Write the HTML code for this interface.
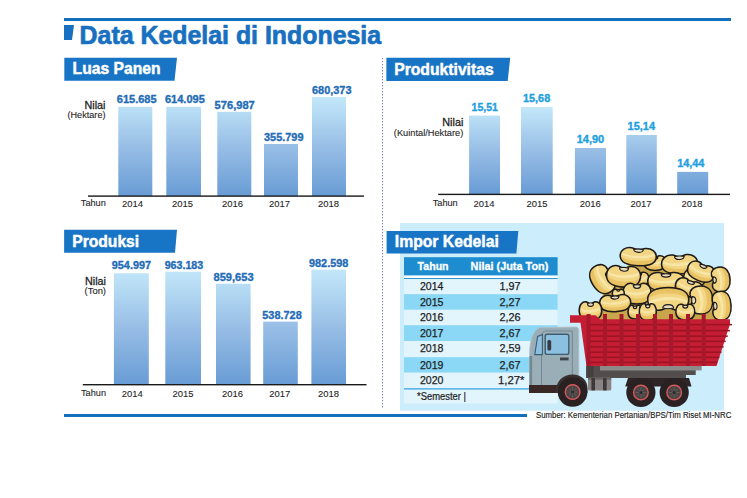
<!DOCTYPE html>
<html><head><meta charset="utf-8"><style>
html,body{margin:0;padding:0;background:#fff;}
body{width:747px;height:498px;overflow:hidden;}
svg{display:block;font-family:"Liberation Sans", sans-serif;}
</style></head><body>
<svg width="747" height="498" viewBox="0 0 747 498">
<rect width="747" height="498" fill="#fff"/>
<rect x="64" y="18" width="667" height="3" fill="#1470bc"/>
<rect x="64" y="414" width="463" height="3" fill="#1470bc"/>
<polygon points="64,25 74,25 72,40 64,40" fill="#1870c0"/>
<text x="79.6" y="43.7" font-size="25" font-weight="bold" fill="#1870c0" text-anchor="start" textLength="301.5" lengthAdjust="spacingAndGlyphs" stroke="#1870c0" stroke-width="0.7" >Data Kedelai di Indonesia</text>
<polygon points="64.3,57.7 177,57.7 174.5,80.8 64.3,80.8" fill="#1875c5"/>
<text x="72.6" y="73.8" font-size="16.5" font-weight="bold" fill="#fff" text-anchor="start" textLength="88" lengthAdjust="spacingAndGlyphs" stroke="#fff" stroke-width="0.45" >Luas Panen</text>
<polygon points="386.4,57.8 510.2,57.8 507.7,80.9 386.4,80.9" fill="#1875c5"/>
<text x="394.2" y="74.6" font-size="16.5" font-weight="bold" fill="#fff" text-anchor="start" textLength="99.5" lengthAdjust="spacingAndGlyphs" stroke="#fff" stroke-width="0.45" >Produktivitas</text>
<polygon points="64.1,229.7 177,229.7 175,252.8 64.1,252.8" fill="#1875c5"/>
<text x="72.2" y="246.5" font-size="16.5" font-weight="bold" fill="#fff" text-anchor="start" textLength="67" lengthAdjust="spacingAndGlyphs" stroke="#fff" stroke-width="0.45" >Produksi</text>
<line x1="382.5" y1="58" x2="382.5" y2="409" stroke="#7480bd" stroke-width="1" stroke-dasharray="1.3,1.7"/>
<defs>
<linearGradient id="g1" gradientUnits="userSpaceOnUse" x1="0" y1="97" x2="0" y2="196"><stop offset="0" stop-color="#c3e8fa"/><stop offset="0.5" stop-color="#98bee6"/><stop offset="1" stop-color="#689cd5"/></linearGradient>
<linearGradient id="g2" gradientUnits="userSpaceOnUse" x1="0" y1="107" x2="0" y2="194"><stop offset="0" stop-color="#c3e8fa"/><stop offset="0.5" stop-color="#98bee6"/><stop offset="1" stop-color="#689cd5"/></linearGradient>
<linearGradient id="g3" gradientUnits="userSpaceOnUse" x1="0" y1="269" x2="0" y2="385"><stop offset="0" stop-color="#c3e8fa"/><stop offset="0.5" stop-color="#98bee6"/><stop offset="1" stop-color="#689cd5"/></linearGradient>
</defs>
<rect x="118.3" y="106.8" width="34.000000000000014" height="89.2" fill="url(#g1)"/>
<rect x="166.3" y="106.8" width="34.69999999999999" height="89.2" fill="url(#g1)"/>
<rect x="217.3" y="111.8" width="34.0" height="84.2" fill="url(#g1)"/>
<rect x="264" y="144" width="34" height="52" fill="url(#g1)"/>
<rect x="312" y="96.9" width="34" height="99.1" fill="url(#g1)"/>
<rect x="88" y="195.4" width="276" height="1.4" fill="#1a1a1a"/>
<text x="116.8" y="103.3" font-size="10.8" font-weight="bold" fill="#1f6cb7" text-anchor="start" textLength="39.8" lengthAdjust="spacingAndGlyphs" stroke="#1f6cb7" stroke-width="0.35" >615.685</text>
<text x="165" y="103.3" font-size="10.8" font-weight="bold" fill="#1f6cb7" text-anchor="start" textLength="39.8" lengthAdjust="spacingAndGlyphs" stroke="#1f6cb7" stroke-width="0.35" >614.095</text>
<text x="214.6" y="109" font-size="10.8" font-weight="bold" fill="#1f6cb7" text-anchor="start" textLength="40.2" lengthAdjust="spacingAndGlyphs" stroke="#1f6cb7" stroke-width="0.35" >576,987</text>
<text x="264" y="141.3" font-size="10.8" font-weight="bold" fill="#1f6cb7" text-anchor="start" textLength="39.5" lengthAdjust="spacingAndGlyphs" stroke="#1f6cb7" stroke-width="0.35" >355.799</text>
<text x="312" y="93.5" font-size="10.8" font-weight="bold" fill="#1f6cb7" text-anchor="start" textLength="39.5" lengthAdjust="spacingAndGlyphs" stroke="#1f6cb7" stroke-width="0.35" >680,373</text>
<text x="122" y="207.2" font-size="9.8" font-weight="normal" fill="#1e1e1e" text-anchor="start" textLength="21" lengthAdjust="spacingAndGlyphs" stroke="#1e1e1e" stroke-width="0.1" >2014</text>
<text x="172" y="207.2" font-size="9.8" font-weight="normal" fill="#1e1e1e" text-anchor="start" textLength="21" lengthAdjust="spacingAndGlyphs" stroke="#1e1e1e" stroke-width="0.1" >2015</text>
<text x="222" y="207.2" font-size="9.8" font-weight="normal" fill="#1e1e1e" text-anchor="start" textLength="21" lengthAdjust="spacingAndGlyphs" stroke="#1e1e1e" stroke-width="0.1" >2016</text>
<text x="269" y="207.2" font-size="9.8" font-weight="normal" fill="#1e1e1e" text-anchor="start" textLength="21" lengthAdjust="spacingAndGlyphs" stroke="#1e1e1e" stroke-width="0.1" >2017</text>
<text x="318" y="207.2" font-size="9.8" font-weight="normal" fill="#1e1e1e" text-anchor="start" textLength="21" lengthAdjust="spacingAndGlyphs" stroke="#1e1e1e" stroke-width="0.1" >2018</text>
<text x="80.8" y="206.2" font-size="9.6" font-weight="normal" fill="#1e1e1e" text-anchor="start" textLength="25" lengthAdjust="spacingAndGlyphs" stroke="#1e1e1e" stroke-width="0.1" >Tahun</text>
<text x="84.5" y="109" font-size="11.5" font-weight="normal" fill="#1e1e1e" text-anchor="start" textLength="21" lengthAdjust="spacingAndGlyphs" stroke="#1e1e1e" stroke-width="0.3" >Nilai</text>
<text x="67.5" y="118.1" font-size="9.4" font-weight="normal" fill="#1e1e1e" text-anchor="start" textLength="38" lengthAdjust="spacingAndGlyphs" stroke="#1e1e1e" stroke-width="0.1" >(Hektare)</text>
<rect x="469.1" y="115.6" width="30.899999999999977" height="78.70000000000002" fill="url(#g2)"/>
<rect x="521" y="107" width="31.700000000000045" height="87.30000000000001" fill="url(#g2)"/>
<rect x="574.9" y="148" width="31.100000000000023" height="46.30000000000001" fill="url(#g2)"/>
<rect x="626.3" y="135" width="30.5" height="59.30000000000001" fill="url(#g2)"/>
<rect x="677.2" y="171.9" width="31.0" height="22.400000000000006" fill="url(#g2)"/>
<rect x="438.2" y="193.70000000000002" width="291.8" height="1.4" fill="#1a1a1a"/>
<text x="471.6" y="110.8" font-size="10.8" font-weight="bold" fill="#22a0de" text-anchor="start" textLength="26.2" lengthAdjust="spacingAndGlyphs" stroke="#22a0de" stroke-width="0.35" >15,51</text>
<text x="523" y="102" font-size="10.8" font-weight="bold" fill="#22a0de" text-anchor="start" textLength="27.2" lengthAdjust="spacingAndGlyphs" stroke="#22a0de" stroke-width="0.35" >15,68</text>
<text x="576.7" y="143.4" font-size="10.8" font-weight="bold" fill="#22a0de" text-anchor="start" textLength="27.5" lengthAdjust="spacingAndGlyphs" stroke="#22a0de" stroke-width="0.35" >14,90</text>
<text x="627.6" y="130" font-size="10.8" font-weight="bold" fill="#22a0de" text-anchor="start" textLength="27.4" lengthAdjust="spacingAndGlyphs" stroke="#22a0de" stroke-width="0.35" >15,14</text>
<text x="677.2" y="167" font-size="10.8" font-weight="bold" fill="#22a0de" text-anchor="start" textLength="27.2" lengthAdjust="spacingAndGlyphs" stroke="#22a0de" stroke-width="0.35" >14,44</text>
<text x="473.4" y="207.3" font-size="9.8" font-weight="normal" fill="#1e1e1e" text-anchor="start" textLength="21" lengthAdjust="spacingAndGlyphs" stroke="#1e1e1e" stroke-width="0.1" >2014</text>
<text x="526.4" y="207.3" font-size="9.8" font-weight="normal" fill="#1e1e1e" text-anchor="start" textLength="21" lengthAdjust="spacingAndGlyphs" stroke="#1e1e1e" stroke-width="0.1" >2015</text>
<text x="579.8" y="207.3" font-size="9.8" font-weight="normal" fill="#1e1e1e" text-anchor="start" textLength="21" lengthAdjust="spacingAndGlyphs" stroke="#1e1e1e" stroke-width="0.1" >2016</text>
<text x="630.6" y="207.3" font-size="9.8" font-weight="normal" fill="#1e1e1e" text-anchor="start" textLength="21" lengthAdjust="spacingAndGlyphs" stroke="#1e1e1e" stroke-width="0.1" >2017</text>
<text x="681.5" y="207.3" font-size="9.8" font-weight="normal" fill="#1e1e1e" text-anchor="start" textLength="21" lengthAdjust="spacingAndGlyphs" stroke="#1e1e1e" stroke-width="0.1" >2018</text>
<text x="432.7" y="206.3" font-size="9.6" font-weight="normal" fill="#1e1e1e" text-anchor="start" textLength="25" lengthAdjust="spacingAndGlyphs" stroke="#1e1e1e" stroke-width="0.1" >Tahun</text>
<text x="442.3" y="126.4" font-size="11.5" font-weight="normal" fill="#1e1e1e" text-anchor="start" textLength="21" lengthAdjust="spacingAndGlyphs" stroke="#1e1e1e" stroke-width="0.3" >Nilai</text>
<text x="393.8" y="135.8" font-size="9.4" font-weight="normal" fill="#1e1e1e" text-anchor="start" textLength="69.5" lengthAdjust="spacingAndGlyphs" stroke="#1e1e1e" stroke-width="0.1" >(Kuintal/Hektare)</text>
<rect x="113.9" y="273.2" width="34.900000000000006" height="111.40000000000003" fill="url(#g3)"/>
<rect x="165.3" y="271.7" width="35.69999999999999" height="112.90000000000003" fill="url(#g3)"/>
<rect x="216" y="283.7" width="34.599999999999994" height="100.90000000000003" fill="url(#g3)"/>
<rect x="263.2" y="321.6" width="34.60000000000002" height="63.0" fill="url(#g3)"/>
<rect x="311.4" y="269.6" width="34.60000000000002" height="115.0" fill="url(#g3)"/>
<rect x="82.8" y="384.0" width="283.7" height="1.4" fill="#1a1a1a"/>
<text x="111.8" y="268.9" font-size="10.8" font-weight="bold" fill="#1f6cb7" text-anchor="start" textLength="39.2" lengthAdjust="spacingAndGlyphs" stroke="#1f6cb7" stroke-width="0.35" >954.997</text>
<text x="164.7" y="268.9" font-size="10.8" font-weight="bold" fill="#1f6cb7" text-anchor="start" textLength="38.5" lengthAdjust="spacingAndGlyphs" stroke="#1f6cb7" stroke-width="0.35" >963.183</text>
<text x="213.5" y="281" font-size="10.8" font-weight="bold" fill="#1f6cb7" text-anchor="start" textLength="40.1" lengthAdjust="spacingAndGlyphs" stroke="#1f6cb7" stroke-width="0.35" >859,653</text>
<text x="262.3" y="318.6" font-size="10.8" font-weight="bold" fill="#1f6cb7" text-anchor="start" textLength="39.4" lengthAdjust="spacingAndGlyphs" stroke="#1f6cb7" stroke-width="0.35" >538.728</text>
<text x="309" y="266.6" font-size="10.8" font-weight="bold" fill="#1f6cb7" text-anchor="start" textLength="39.4" lengthAdjust="spacingAndGlyphs" stroke="#1f6cb7" stroke-width="0.35" >982.598</text>
<text x="121.8" y="397" font-size="9.8" font-weight="normal" fill="#1e1e1e" text-anchor="start" textLength="21" lengthAdjust="spacingAndGlyphs" stroke="#1e1e1e" stroke-width="0.1" >2014</text>
<text x="172.4" y="397" font-size="9.8" font-weight="normal" fill="#1e1e1e" text-anchor="start" textLength="21" lengthAdjust="spacingAndGlyphs" stroke="#1e1e1e" stroke-width="0.1" >2015</text>
<text x="222" y="397" font-size="9.8" font-weight="normal" fill="#1e1e1e" text-anchor="start" textLength="21" lengthAdjust="spacingAndGlyphs" stroke="#1e1e1e" stroke-width="0.1" >2016</text>
<text x="269.2" y="397" font-size="9.8" font-weight="normal" fill="#1e1e1e" text-anchor="start" textLength="21" lengthAdjust="spacingAndGlyphs" stroke="#1e1e1e" stroke-width="0.1" >2017</text>
<text x="318" y="397" font-size="9.8" font-weight="normal" fill="#1e1e1e" text-anchor="start" textLength="21" lengthAdjust="spacingAndGlyphs" stroke="#1e1e1e" stroke-width="0.1" >2018</text>
<text x="81" y="396" font-size="9.6" font-weight="normal" fill="#1e1e1e" text-anchor="start" textLength="25" lengthAdjust="spacingAndGlyphs" stroke="#1e1e1e" stroke-width="0.1" >Tahun</text>
<text x="85" y="285" font-size="11.5" font-weight="normal" fill="#1e1e1e" text-anchor="start" textLength="21" lengthAdjust="spacingAndGlyphs" stroke="#1e1e1e" stroke-width="0.3" >Nilai</text>
<text x="84.6" y="294.1" font-size="9.4" font-weight="normal" fill="#1e1e1e" text-anchor="start" textLength="21.4" lengthAdjust="spacingAndGlyphs" stroke="#1e1e1e" stroke-width="0.1" >(Ton)</text>
<rect x="400" y="223" width="324" height="187.7" fill="#ccedfb"/>
<polygon points="386.6,231 518.3,231 516.4,253.4 386.6,253.4" fill="#1875c5"/>
<text x="394.8" y="246.9" font-size="16.5" font-weight="bold" fill="#fff" text-anchor="start" textLength="104" lengthAdjust="spacingAndGlyphs" stroke="#fff" stroke-width="0.45" >Impor Kedelai</text>
<rect x="404" y="257.2" width="153.6" height="18.4" fill="#1d8dcf"/>
<rect x="404" y="275.6" width="153.6" height="2.5" fill="#ffffff"/>
<rect x="404" y="278.1" width="153.6" height="1.1" fill="#1d8dcf"/>
<text x="417.6" y="269.8" font-size="11" font-weight="bold" fill="#fff" text-anchor="start" textLength="31" lengthAdjust="spacingAndGlyphs" stroke="#fff" stroke-width="0.3" >Tahun</text>
<text x="470.6" y="269.8" font-size="11" font-weight="bold" fill="#fff" text-anchor="start" textLength="77.7" lengthAdjust="spacingAndGlyphs" stroke="#fff" stroke-width="0.3" >Nilai (Juta Ton)</text>
<rect x="404" y="279.10" width="153.6" height="15.10" fill="#e2f4fc"/>
<text x="419.9" y="290.40000000000003" font-size="10.8" font-weight="normal" fill="#1e1e1e" text-anchor="start" textLength="23.5" lengthAdjust="spacingAndGlyphs" stroke="#1e1e1e" stroke-width="0.25" >2014</text>
<text x="510" y="290.40000000000003" font-size="10.8" font-weight="normal" fill="#1e1e1e" text-anchor="middle" stroke="#1e1e1e" stroke-width="0.25" >1,97</text>
<rect x="404" y="294.20" width="153.6" height="15.60" fill="#8ad7f6"/>
<text x="419.9" y="305.5" font-size="10.8" font-weight="normal" fill="#1e1e1e" text-anchor="start" textLength="23.5" lengthAdjust="spacingAndGlyphs" stroke="#1e1e1e" stroke-width="0.25" >2015</text>
<text x="510" y="305.5" font-size="10.8" font-weight="normal" fill="#1e1e1e" text-anchor="middle" stroke="#1e1e1e" stroke-width="0.25" >2,27</text>
<rect x="404" y="309.80" width="153.6" height="15.50" fill="#e2f4fc"/>
<text x="419.9" y="321.1" font-size="10.8" font-weight="normal" fill="#1e1e1e" text-anchor="start" textLength="23.5" lengthAdjust="spacingAndGlyphs" stroke="#1e1e1e" stroke-width="0.25" >2016</text>
<text x="510" y="321.1" font-size="10.8" font-weight="normal" fill="#1e1e1e" text-anchor="middle" stroke="#1e1e1e" stroke-width="0.25" >2,26</text>
<rect x="404" y="325.30" width="153.6" height="15.70" fill="#8ad7f6"/>
<text x="419.9" y="336.6" font-size="10.8" font-weight="normal" fill="#1e1e1e" text-anchor="start" textLength="23.5" lengthAdjust="spacingAndGlyphs" stroke="#1e1e1e" stroke-width="0.25" >2017</text>
<text x="510" y="336.6" font-size="10.8" font-weight="normal" fill="#1e1e1e" text-anchor="middle" stroke="#1e1e1e" stroke-width="0.25" >2,67</text>
<rect x="404" y="341.00" width="153.6" height="16.20" fill="#e2f4fc"/>
<text x="419.9" y="352.3" font-size="10.8" font-weight="normal" fill="#1e1e1e" text-anchor="start" textLength="23.5" lengthAdjust="spacingAndGlyphs" stroke="#1e1e1e" stroke-width="0.25" >2018</text>
<text x="510" y="352.3" font-size="10.8" font-weight="normal" fill="#1e1e1e" text-anchor="middle" stroke="#1e1e1e" stroke-width="0.25" >2,59</text>
<rect x="404" y="357.20" width="153.6" height="15.50" fill="#8ad7f6"/>
<text x="419.9" y="368.5" font-size="10.8" font-weight="normal" fill="#1e1e1e" text-anchor="start" textLength="23.5" lengthAdjust="spacingAndGlyphs" stroke="#1e1e1e" stroke-width="0.25" >2019</text>
<text x="510" y="368.5" font-size="10.8" font-weight="normal" fill="#1e1e1e" text-anchor="middle" stroke="#1e1e1e" stroke-width="0.25" >2,67</text>
<rect x="404" y="372.70" width="153.6" height="15.50" fill="#e2f4fc"/>
<text x="419.9" y="384.0" font-size="10.8" font-weight="normal" fill="#1e1e1e" text-anchor="start" textLength="23.5" lengthAdjust="spacingAndGlyphs" stroke="#1e1e1e" stroke-width="0.25" >2020</text>
<text x="498" y="384.0" font-size="10.8" font-weight="normal" fill="#1e1e1e" text-anchor="start" textLength="26.5" lengthAdjust="spacingAndGlyphs" stroke="#1e1e1e" stroke-width="0.25" >1,27*</text>
<rect x="404" y="388" width="153.6" height="1.8" fill="#5cb8e8"/>
<rect x="404" y="389.8" width="153.6" height="13.8" fill="#e2f4fc"/>
<text x="417" y="400.2" font-size="10" font-weight="normal" fill="#1e1e1e" text-anchor="start" textLength="49" lengthAdjust="spacingAndGlyphs" stroke="#1e1e1e" stroke-width="0.2" >*Semester |</text>
<text x="536" y="417.7" font-size="8.4" font-weight="normal" fill="#1e1e1e" text-anchor="start" textLength="195.3" lengthAdjust="spacingAndGlyphs" stroke="#1e1e1e" stroke-width="0.15" >Sumber: Kementerian Pertanian/BPS/Tim Riset MI-NRC</text>
<defs>
<clipPath id="bclip"><path d="M-18,0.5 C-18.5,-7 -12.5,-10.2 -7,-9.6 C-3.8,-9.2 -2.8,-7.6 0,-7.6 C2.8,-7.6 3.8,-9.2 7,-9.6 C12.5,-10.2 18.5,-7 18,0.5 C17.4,6.8 10,10 0,10 C-10,10 -17.4,6.8 -18,0.5 Z"/></clipPath>
<g id="bean">
<path d="M-18,0.5 C-18.5,-7 -12.5,-10.2 -7,-9.6 C-3.8,-9.2 -2.8,-7.6 0,-7.6 C2.8,-7.6 3.8,-9.2 7,-9.6 C12.5,-10.2 18.5,-7 18,0.5 C17.4,6.8 10,10 0,10 C-10,10 -17.4,6.8 -18,0.5 Z" fill="#f3d683"/>
<g clip-path="url(#bclip)">
<path d="M-19,-5.5 C-14,-1.5 -7,-0.5 0,-1 C7,-1.5 14,-2.5 19,-6.5 L19,-3.8 C14,0.2 7,1.8 0,1.8 C-7,1.8 -14,0.8 -19,-2.8 Z" fill="#f7e6a8"/>
<path d="M-19,-1.5 C-15,3.4 -8,4.8 0,4.8 C8,4.8 15,3.4 19,-1.5 L19,12 L-19,12 Z" fill="#e8c263"/>
<path d="M-19,4.5 C-15,7.8 -8,8.6 0,8.6 C8,8.6 15,7.8 19,4.5 L19,12 L-19,12 Z" fill="#d4ab48"/>
</g>
<path d="M-18,0.5 C-18.5,-7 -12.5,-10.2 -7,-9.6 C-3.8,-9.2 -2.8,-7.6 0,-7.6 C2.8,-7.6 3.8,-9.2 7,-9.6 C12.5,-10.2 18.5,-7 18,0.5 C17.4,6.8 10,10 0,10 C-10,10 -17.4,6.8 -18,0.5 Z" fill="none" stroke="#1c1a1a" stroke-width="1.55" vector-effect="non-scaling-stroke"/>
<path d="M-4.8,-7.7 C-4.4,-3.9 4.4,-3.9 4.8,-7.7 C2.5,-8.6 -2.5,-8.6 -4.8,-7.7 Z" fill="#e8dcc0" stroke="#1c1a1a" stroke-width="1.1" vector-effect="non-scaling-stroke"/>
</g>
</defs>
<polygon points="598,321 601,300 607,282 620,272 632,262 648,258 662,260 688,265 708,274 720,288 726,321" fill="#c9a64c"/>
<use href="#bean" transform="translate(655,263) rotate(0) scale(0.611,0.750)"/>
<use href="#bean" transform="translate(638.2,256.7) rotate(3) scale(1.000,0.900)"/>
<use href="#bean" transform="translate(679.6,264.2) rotate(-2) scale(1.000,0.975)"/>
<use href="#bean" transform="translate(639,279) rotate(0) scale(0.556,0.700)"/>
<use href="#bean" transform="translate(694.5,278) rotate(10) scale(0.611,0.800)"/>
<use href="#bean" transform="translate(701,272) rotate(22) scale(0.778,0.900)"/>
<use href="#bean" transform="translate(720.8,279.4) rotate(-95) scale(0.694,0.925)"/>
<use href="#bean" transform="translate(602,279.5) rotate(58) scale(0.833,1.050)"/>
<use href="#bean" transform="translate(623.5,276.4) rotate(4) scale(0.944,1.075)"/>
<use href="#bean" transform="translate(666,281.8) rotate(0) scale(1.011,0.965)"/>
<use href="#bean" transform="translate(637,293.5) rotate(0) scale(0.778,1.050)"/>
<use href="#bean" transform="translate(689,288) rotate(18) scale(0.778,0.850)"/>
<use href="#bean" transform="translate(618.3,293.5) rotate(0) scale(0.333,0.450)"/>
<use href="#bean" transform="translate(615.2,303.2) rotate(-3) scale(0.861,0.850)"/>
<use href="#bean" transform="translate(668.2,299) rotate(180) scale(1.139,1.160)"/>
<use href="#bean" transform="translate(701.3,300) rotate(-92) scale(0.778,1.150)"/>
<use href="#bean" transform="translate(721.6,305.7) rotate(-93) scale(0.806,0.950)"/>
<use href="#bean" transform="translate(590.5,311) rotate(0) scale(0.625,0.950)"/>
<use href="#bean" transform="translate(635,312) rotate(0) scale(0.389,0.700)"/>
<use href="#bean" transform="translate(647.8,312) rotate(0) scale(0.472,0.850)"/>
<use href="#bean" transform="translate(685.3,312) rotate(0) scale(0.528,0.800)"/>
<polygon points="570,315.3 595.5,315.3 600,319.3 730,319.3 730,324 716.5,366 586.5,366 580.5,322.7 570,322.7" fill="#c51d33"/>
<rect x="590.0" y="323.9" width="142.0" height="1.5" fill="#9b1422"/>
<rect x="590.0" y="329.9" width="139.9" height="1.5" fill="#9b1422"/>
<rect x="590.0" y="335.4" width="137.8" height="1.5" fill="#9b1422"/>
<rect x="590.0" y="340.6" width="135.7" height="1.5" fill="#9b1422"/>
<rect x="590.0" y="346.1" width="133.6" height="1.5" fill="#9b1422"/>
<rect x="590.0" y="351.4" width="131.5" height="1.5" fill="#9b1422"/>
<rect x="590.0" y="356.6" width="129.4" height="1.5" fill="#9b1422"/>
<rect x="590.0" y="361.6" width="127.3" height="1.5" fill="#9b1422"/>
<rect x="586.5" y="314" width="4" height="52" fill="#a8182c"/>
<rect x="603.0" y="314" width="4" height="52" fill="#a8182c"/>
<rect x="619.5" y="314" width="4" height="52" fill="#a8182c"/>
<rect x="636.0" y="314" width="4" height="52" fill="#a8182c"/>
<rect x="653.0" y="314" width="4" height="52" fill="#a8182c"/>
<rect x="669.0" y="314" width="4" height="52" fill="#a8182c"/>
<rect x="686.0" y="314" width="4" height="52" fill="#a8182c"/>
<rect x="701.7" y="314" width="4" height="52" fill="#a8182c"/>
<rect x="600" y="366" width="101.7" height="4.4" fill="#8f8a8a"/>
<path d="M586,366 L600,366 L600,370.2 L695.7,370.2 L695.7,375 L686,375 L686,378 L586,378 Z" fill="#534d4d"/>
<rect x="587.5" y="366" width="6" height="12" fill="#463f3f"/>
<rect x="588" y="377.7" width="23.3" height="12.7" rx="1.5" fill="#8a8484"/>
<rect x="588" y="377.7" width="23.3" height="2" fill="#6a6464"/>
<rect x="591.4" y="378" width="3.6" height="12.4" fill="#3e3838"/>
<rect x="603" y="378" width="3.6" height="12.4" fill="#3e3838"/>
<path d="M529.7,385.5 L529.7,353 C529.7,341 533,330.5 539.5,327.6 L576,327 C578,327 578.8,328.5 578.8,330.5 L578.8,385.5 Z" fill="#9aaeb8" stroke="#b3c0c7" stroke-width="0.9"/>
<rect x="529.5" y="356" width="2.6" height="29" fill="#74868f"/>
<path d="M541.5,385 L541.5,336 C541.5,333 543.5,331 546.5,331 L572.3,331 L572.3,385" fill="none" stroke="#74868f" stroke-width="1"/>
<rect x="545.2" y="334.2" width="23.6" height="20.2" rx="2" fill="#8cc0e0" stroke="#3f5d70" stroke-width="1.4"/>
<polygon points="534.8,354.6 537.6,336.5 542.4,334.6 542.4,354.6" fill="#8cc0e0" stroke="#3f5d70" stroke-width="1.1"/>
<rect x="547.4" y="340" width="3.8" height="10.5" rx="1.5" fill="#383c44"/>
<rect x="560" y="357.5" width="8.6" height="2.9" fill="#3f4448"/>
<rect x="529" y="385" width="29" height="8" fill="#3a2826"/>
<path d="M555.5,393 C555.5,381 563,374.4 572.6,374.4 C581,374.4 587.5,380 587.5,388 L587.5,393 Z" fill="#3a3030"/>
<circle cx="572.6" cy="392" r="14.8" fill="#2a2222"/>
<circle cx="572.6" cy="392" r="7.3" fill="#4a4343" stroke="#d45a5c" stroke-width="1.4"/>
<line x1="572.6" y1="392" x2="578.10" y2="392.00" stroke="#6a6262" stroke-width="0.8"/>
<line x1="572.6" y1="392" x2="576.49" y2="395.89" stroke="#6a6262" stroke-width="0.8"/>
<line x1="572.6" y1="392" x2="572.60" y2="397.50" stroke="#6a6262" stroke-width="0.8"/>
<line x1="572.6" y1="392" x2="568.71" y2="395.89" stroke="#6a6262" stroke-width="0.8"/>
<line x1="572.6" y1="392" x2="567.10" y2="392.00" stroke="#6a6262" stroke-width="0.8"/>
<line x1="572.6" y1="392" x2="568.71" y2="388.11" stroke="#6a6262" stroke-width="0.8"/>
<line x1="572.6" y1="392" x2="572.60" y2="386.50" stroke="#6a6262" stroke-width="0.8"/>
<line x1="572.6" y1="392" x2="576.49" y2="388.11" stroke="#6a6262" stroke-width="0.8"/>
<circle cx="572.6" cy="392" r="1.6" fill="#2e2828"/>
<path d="M625.2,386.5 L628,378 L689,378 L691.5,386.5 Z" fill="#2e2626"/>
<circle cx="640.9" cy="392.5" r="14.6" fill="#2a2222"/>
<circle cx="640.9" cy="392.5" r="7.3" fill="#4a4343" stroke="#d45a5c" stroke-width="1.4"/>
<line x1="640.9" y1="392.5" x2="646.40" y2="392.50" stroke="#6a6262" stroke-width="0.8"/>
<line x1="640.9" y1="392.5" x2="644.79" y2="396.39" stroke="#6a6262" stroke-width="0.8"/>
<line x1="640.9" y1="392.5" x2="640.90" y2="398.00" stroke="#6a6262" stroke-width="0.8"/>
<line x1="640.9" y1="392.5" x2="637.01" y2="396.39" stroke="#6a6262" stroke-width="0.8"/>
<line x1="640.9" y1="392.5" x2="635.40" y2="392.50" stroke="#6a6262" stroke-width="0.8"/>
<line x1="640.9" y1="392.5" x2="637.01" y2="388.61" stroke="#6a6262" stroke-width="0.8"/>
<line x1="640.9" y1="392.5" x2="640.90" y2="387.00" stroke="#6a6262" stroke-width="0.8"/>
<line x1="640.9" y1="392.5" x2="644.79" y2="388.61" stroke="#6a6262" stroke-width="0.8"/>
<circle cx="640.9" cy="392.5" r="1.6" fill="#2e2828"/>
<circle cx="674.2" cy="392.5" r="14.6" fill="#2a2222"/>
<circle cx="674.2" cy="392.5" r="7.3" fill="#4a4343" stroke="#d45a5c" stroke-width="1.4"/>
<line x1="674.2" y1="392.5" x2="679.70" y2="392.50" stroke="#6a6262" stroke-width="0.8"/>
<line x1="674.2" y1="392.5" x2="678.09" y2="396.39" stroke="#6a6262" stroke-width="0.8"/>
<line x1="674.2" y1="392.5" x2="674.20" y2="398.00" stroke="#6a6262" stroke-width="0.8"/>
<line x1="674.2" y1="392.5" x2="670.31" y2="396.39" stroke="#6a6262" stroke-width="0.8"/>
<line x1="674.2" y1="392.5" x2="668.70" y2="392.50" stroke="#6a6262" stroke-width="0.8"/>
<line x1="674.2" y1="392.5" x2="670.31" y2="388.61" stroke="#6a6262" stroke-width="0.8"/>
<line x1="674.2" y1="392.5" x2="674.20" y2="387.00" stroke="#6a6262" stroke-width="0.8"/>
<line x1="674.2" y1="392.5" x2="678.09" y2="388.61" stroke="#6a6262" stroke-width="0.8"/>
<circle cx="674.2" cy="392.5" r="1.6" fill="#2e2828"/>
</svg>
</body></html>
